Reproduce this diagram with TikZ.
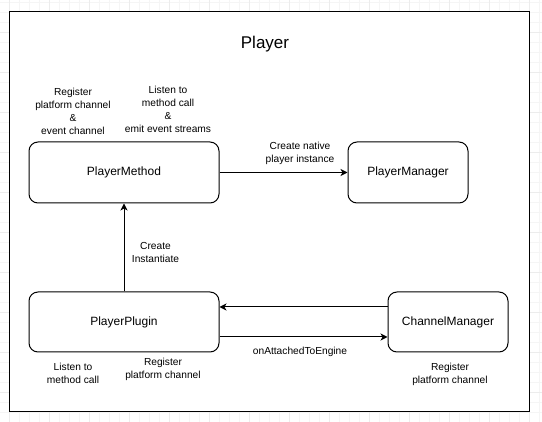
\documentclass[tikz,border=0pt]{standalone}
\usepackage{fontspec}
\setmainfont{Liberation Sans}
\usetikzlibrary{arrows.meta, positioning}
\definecolor{gridminor}{RGB}{245,245,245}
\definecolor{gridmajor}{RGB}{236,236,236}

\begin{document}
\begin{tikzpicture}[
    x=1pt, y=-1pt,
    box/.style={draw, line width=1pt, rounded corners=9pt, minimum width=#1, minimum height=61pt, inner sep=0pt, font=\fontsize{12}{14}\selectfont},
    note/.style={align=center, inner sep=0pt, font=\fontsize{10.2}{13}\selectfont},
    arrow/.style={-{Stealth[length=7pt, width=7pt, inset=2pt]}, line width=1pt}
]
    \useasboundingbox (0,0) rectangle (542,422);

    % Background grid
    \foreach \gx in {-1,9,...,541} \draw[gridminor, line width=0.7pt] (\gx,0) -- (\gx,422);
    \foreach \gy in {2,12,...,422} \draw[gridminor, line width=0.7pt] (0,\gy) -- (542,\gy);
    \foreach \gx in {9,49,...,541} \draw[gridmajor, line width=0.7pt] (\gx,0) -- (\gx,422);
    \foreach \gy in {32,72,...,422} \draw[gridmajor, line width=0.7pt] (0,\gy) -- (542,\gy);

    % Frame
    \node[draw, line width=1pt, fill=white, minimum width=520pt, minimum height=400pt, inner sep=0pt] (frame) at (269,212) {};
    \node[font=\fontsize{17}{20}\selectfont] (title) at (265,44) {Player};

    % Top row
    \node[box=190pt] (method) at (124,172.5) {PlayerMethod};
    \node[box=120pt] (manager) at (408,172.5) {PlayerManager};

    % Bottom row
    \node[box=190pt, minimum height=60pt] (plugin) at (124,322) {PlayerPlugin};
    \node[box=120pt, minimum height=60pt] (channel) at (448,322) {ChannelManager};

    % Notes
    \node[note] (methodreg) at (73,111) {Register\\platform channel\\\&\\event channel};
    \node[note] (methodlisten) at (168,109) {Listen to\\method call\\\&\\emit event streams};
    \node[note] (pluginlisten) at (73,373) {Listen to\\method call};
    \node[note] (pluginreg) at (163,369.5) {Register\\platform channel};
    \node[note] (channelreg) at (450,374) {Register\\platform channel};

    % Connections
    \draw[arrow] (method) -- (manager);
    \node[note] (createnative) at (300,153) {Create native\\player instance};
    \draw[arrow] (plugin) -- (method);
    \node[note] (instantiate) at (155.5,252.5) {Create\\Instantiate};
    \draw[arrow] ([yshift=15pt]channel.west) -- ([yshift=15pt]plugin.east);
    \draw[arrow] ([yshift=-15pt]plugin.east) -- ([yshift=-15pt]channel.west);
    \node[note] (attached) at (300,352) {onAttachedToEngine};
\end{tikzpicture}
\end{document}
